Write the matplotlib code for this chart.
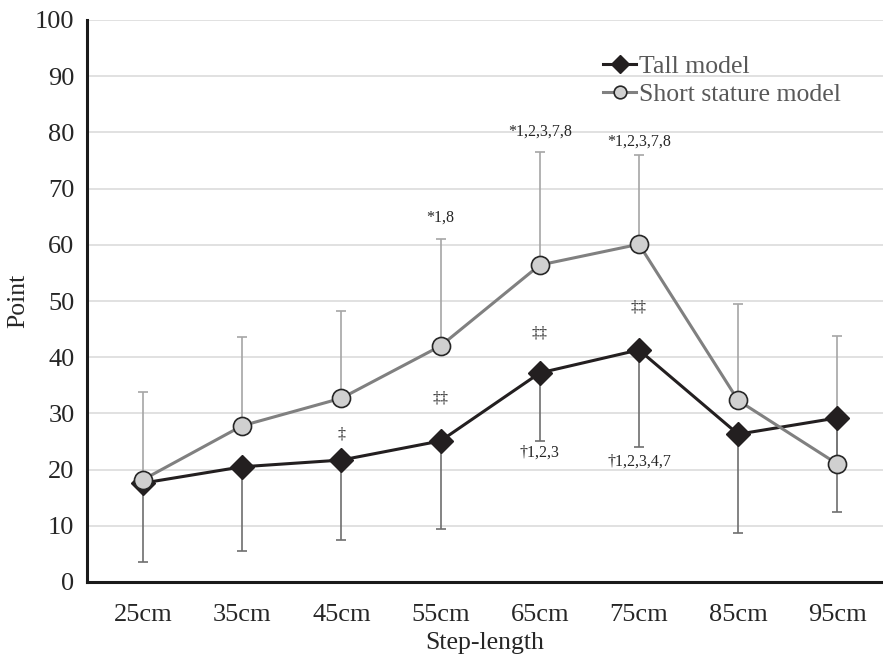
import matplotlib.pyplot as plt
import numpy as np

plt.rcParams['font.family'] = ['Liberation Serif', 'DejaVu Serif']

steps = ['25cm', '35cm', '45cm', '55cm', '65cm', '75cm', '85cm', '95cm']
tall_mean = [17.6, 20.5, 21.7, 25.1, 37.2, 41.3, 26.3, 29.2]
tall_sd = [14.0, 15.0, 14.2, 15.7, 12.1, 17.3, 17.6, 16.7]
short_mean = [18.2, 27.8, 32.7, 42.0, 56.4, 60.1, 32.3, 21.0]
short_sd = [15.6, 15.8, 15.5, 19.0, 20.2, 15.9, 17.2, 22.8]

# significance marks: (category index, y, text)
marks = [(3, 64.8, '*1,8'), (4, 80.2, '*1,2,3,7,8'), (5, 78.3, '*1,2,3,7,8'),
         (2, 26.3, '\u2021'), (3, 32.6, '\u2021\u2021'), (4, 44.3, '\u2021\u2021'),
         (5, 48.8, '\u2021\u2021'),
         (4, 23.0, '\u20201,2,3'), (5, 21.4, '\u20201,2,3,4,7')]

x = np.arange(len(steps))
zeros = np.zeros(len(steps))

fig = plt.figure(figsize=(8.83, 6.61), dpi=100)
ax = fig.add_axes([87/883, 1-582/661, 1-87/883, (582-20)/661])

ax.errorbar(x, short_mean, yerr=[zeros, short_sd], fmt='none', ecolor='#a6a6a6',
            elinewidth=1.2, capsize=3.5, capthick=1.2, zorder=2)
ax.errorbar(x, tall_mean, yerr=[tall_sd, zeros], fmt='none', ecolor='#6e6e6e',
            elinewidth=1.2, capsize=3.5, capthick=1.2, zorder=2)

ax.plot(x, tall_mean, '-', color='#231f20', lw=2.2, marker='D', markersize=12.5,
        markerfacecolor='#231f20', markeredgecolor='#231f20', label='Tall model', zorder=3)
ax.plot(x, short_mean, '-', color='#808080', lw=2.2, marker='o', markersize=13,
        markerfacecolor='#d0d0d0', markeredgecolor='#262626', markeredgewidth=1.2,
        label='Short stature model', zorder=4)

for i, y, t in marks:
    ax.text(x[i], y, t, ha='center', va='center', fontsize=11.5, color='#262626')

ax.set_xlim(-0.564, 7.46)
ax.set_ylim(0, 100)
ax.set_yticks(np.arange(0, 101, 10))
ax.set_xticks(x)
ax.set_xticklabels(steps)
ax.tick_params(length=0, labelsize=19, colors='#262626')
ax.tick_params(axis='x', pad=16)
ax.tick_params(axis='y', pad=9)
ax.grid(axis='y', color='#d9d9d9', lw=1.1)
ax.set_axisbelow(True)
for s in ['top', 'right']:
    ax.spines[s].set_visible(False)
for s in ['left', 'bottom']:
    ax.spines[s].set_linewidth(2.2)
    ax.spines[s].set_color('#1a1a1a')

ax.set_xlabel('Step-length', fontsize=18.5, color='#262626', labelpad=4)
ax.set_ylabel('Point', fontsize=18.5, color='#262626', labelpad=4)

leg = ax.legend(loc='upper left', bbox_to_anchor=(603/883, 1-55/661),
                bbox_transform=fig.transFigure, frameon=False, fontsize=18.5,
                handlelength=1.3, handletextpad=0.1, labelspacing=0.2,
                borderaxespad=0, borderpad=0, markerscale=0.7)
for t in leg.get_texts():
    t.set_color('#595959')

fig.savefig('out.png', dpi=100)
